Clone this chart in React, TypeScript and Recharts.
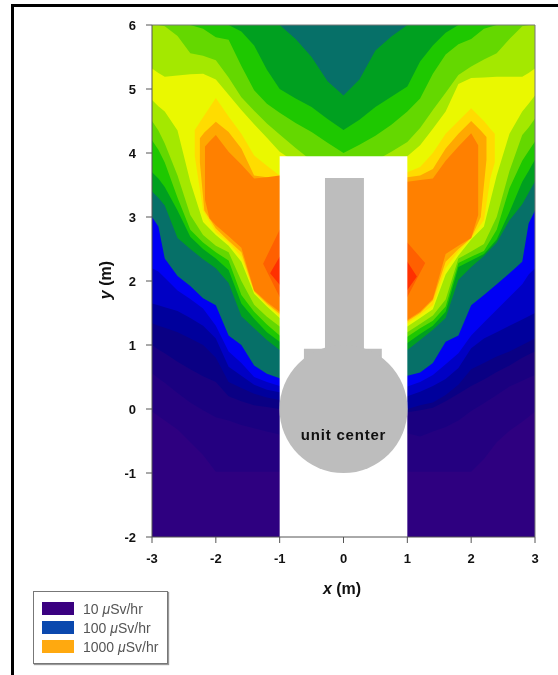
import React from "react"
import {
  Area,
  ComposedChart,
  ReferenceArea,
  ReferenceDot,
  ReferenceLine,
  XAxis,
  YAxis,
} from "recharts"

// x samples shared by the wide contour levels
const gridX = [-3, -2.9, -2.8, -2.6, -2.4, -2.2, -2, -1.8, -1.6, -1.4, -1.2, -1, -0.75, -0.5, -0.25, 0, 0.25, 0.5, 0.75, 1, 1.2, 1.4, 1.6, 1.8, 2, 2.2, 2.4, 2.6, 2.8, 2.9, 3]
const plotTop = [6, 6, 6, 6, 6, 6, 6, 6, 6, 6, 6, 6, 6, 6, 6, 6, 6, 6, 6, 6, 6, 6, 6, 6, 6, 6, 6, 6, 6, 6, 6]

// lower and upper contour of each level
const low1 = [-0.04, -0.11, -0.18, -0.32, -0.52, -0.72, -0.98, -0.98, -0.98, -0.98, -0.98, -0.98, -0.98, -0.98, -0.98, -0.98, -0.98, -0.98, -0.98, -0.98, -0.98, -0.98, -0.98, -0.98, -0.98, -0.78, -0.52, -0.34, -0.2, -0.12, -0.04]
const low2 = [0.56, 0.48, 0.41, 0.25, 0.1, -0.02, -0.13, -0.18, -0.25, -0.3, -0.35, -0.4, -0.4, -0.4, -0.4, -0.4, -0.4, -0.4, -0.4, -0.38, -0.43, -0.35, -0.28, -0.18, -0.03, 0.09, 0.22, 0.35, 0.44, 0.49, 0.53]
const low3 = [1, 0.93, 0.87, 0.74, 0.62, 0.51, 0.42, 0.2, 0.12, 0.06, 0.03, 0, 0, 0, 0, 0, 0, 0, 0, -0.05, -0.02, 0.02, 0.12, 0.24, 0.36, 0.46, 0.58, 0.68, 0.8, 0.85, 0.9]
const low4 = [1.34, 1.3, 1.27, 1.2, 1.1, 1, 0.8, 0.42, 0.33, 0.24, 0.18, 0.14, 0.1, 0.1, 0.1, 0.1, 0.1, 0.1, 0.1, 0, 0.06, 0.1, 0.22, 0.38, 0.62, 0.72, 0.82, 0.9, 1, 1.05, 1.1]
const low5 = [1.65, 1.62, 1.59, 1.53, 1.42, 1.3, 1.1, 0.66, 0.52, 0.38, 0.3, 0.26, 0.25, 0.25, 0.25, 0.25, 0.25, 0.25, 0.25, 0.2, 0.27, 0.36, 0.47, 0.64, 0.95, 1.1, 1.2, 1.3, 1.4, 1.45, 1.5]
const lowBright = [2.2, 2.15, 2.05, 1.85, 1.72, 1.57, 1.3, 0.9, 0.72, 0.5, 0.42, 0.36, 0.35, 0.35, 0.35, 0.35, 0.35, 0.35, 0.35, 0.35, 0.42, 0.53, 0.7, 0.87, 1.15, 1.35, 1.55, 1.75, 1.95, 2.1, 2.2]
const low6 = [3, 2.85, 2.35, 2.08, 1.92, 1.73, 1.62, 1.15, 1, 0.68, 0.55, 0.48, 0.45, 0.42, 0.4, 0.4, 0.4, 0.42, 0.45, 0.52, 0.57, 0.72, 1.05, 1.15, 1.62, 1.78, 1.95, 2.12, 2.3, 2.9, 3.1]
const low7 = [3.4, 3.3, 3.18, 2.67, 2.5, 2.34, 2.2, 1.97, 1.45, 1.26, 1.08, 0.92, 0.9, 0.9, 0.9, 0.9, 0.9, 0.9, 0.9, 0.92, 1.08, 1.24, 1.42, 2.02, 2.22, 2.39, 2.6, 2.95, 3.2, 3.38, 3.56]
const high7 = [6, 6, 6, 6, 6, 6, 6, 6, 6, 6, 6, 6, 5.78, 5.5, 5.12, 4.9, 5.15, 5.6, 5.82, 6, 6, 6, 6, 6, 6, 6, 6, 6, 6, 6, 6]
const low8 = [3.7, 3.6, 3.47, 3.1, 2.69, 2.5, 2.35, 2.17, 1.65, 1.41, 1.2, 1.05, 1, 1, 1, 1, 1, 1, 1, 1.03, 1.17, 1.3, 1.52, 2.22, 2.32, 2.42, 2.65, 3.08, 3.55, 3.72, 3.9]
const high8 = [6, 6, 6, 6, 6, 6, 6, 6, 5.9, 5.68, 5.3, 5, 4.85, 4.72, 4.53, 4.36, 4.52, 4.72, 4.88, 5.04, 5.43, 5.68, 5.88, 6, 6, 6, 6, 6, 6, 6, 6]
const low9 = [4.2, 4.05, 3.85, 3.3, 2.8, 2.6, 2.45, 2.32, 1.78, 1.52, 1.32, 1.15, 1.1, 1.1, 1.1, 1.1, 1.1, 1.1, 1.1, 1.13, 1.26, 1.38, 1.6, 2.28, 2.38, 2.47, 2.8, 3.45, 3.88, 4.03, 4.18]
const high9 = [6, 6, 6, 6, 6, 5.94, 5.81, 5.77, 5.36, 4.98, 4.77, 4.63, 4.47, 4.33, 4.16, 4, 4.13, 4.27, 4.44, 4.65, 4.85, 5.24, 5.54, 5.7, 5.78, 5.94, 6, 6, 6, 6, 6]
const low10 = [4.5, 4.35, 4.15, 3.65, 3.03, 2.72, 2.55, 2.45, 2, 1.63, 1.44, 1.29, 1.2, 1.2, 1.2, 1.2, 1.2, 1.2, 1.2, 1.2, 1.33, 1.46, 1.71, 2.35, 2.46, 2.58, 3, 3.72, 4.28, 4.4, 4.54]
const high10 = [6, 6, 5.98, 5.83, 5.56, 5.52, 5.45, 5.18, 4.87, 4.66, 4.46, 4.29, 4.08, 3.88, 3.75, 3.7, 3.75, 3.88, 4.02, 4.17, 4.39, 4.67, 4.94, 5.22, 5.35, 5.46, 5.56, 5.78, 5.98, 6, 6]
const low11 = [4.83, 4.73, 4.65, 4.35, 3.55, 2.92, 2.72, 2.55, 2.3, 1.8, 1.6, 1.42, 1.3, 1.3, 1.3, 1.3, 1.3, 1.3, 1.3, 1.29, 1.42, 1.56, 2.1, 2.4, 2.65, 2.85, 3.65, 4.3, 4.65, 4.77, 4.9]
const high11 = [5.32, 5.25, 5.19, 5.21, 5.23, 5.24, 5.15, 4.91, 4.67, 4.45, 4.24, 4.02, 3.85, 3.7, 3.6, 3.55, 3.6, 3.7, 3.82, 3.95, 4.12, 4.38, 4.65, 5.08, 5.17, 5.18, 5.19, 5.19, 5.19, 5.25, 5.32]

// the peak levels only reach part of the plot, so they keep their own x samples
const x12 = [-2.33, -2.2, -2, -1.8, -1.6, -1.4, -1.2, -1, 0, 1, 1.2, 1.4, 1.6, 1.8, 2, 2.2, 2.3, 2.37]
const low12 = [3.95, 3.1, 2.76, 2.6, 2.38, 1.83, 1.63, 1.46, 1.3, 1.34, 1.47, 1.62, 2.2, 2.46, 2.67, 2.95, 3.6, 3.85]
const high12 = [4.36, 4.56, 4.86, 4.57, 4.3, 3.96, 3.8, 3.65, 3.6, 3.7, 3.78, 4, 4.3, 4.5, 4.7, 4.5, 4.38, 4.3]
const x13 = [-2.25, -2.18, -2, -1.8, -1.6, -1.4, -1.2, -1, 0, 1, 1.2, 1.4, 1.6, 1.8, 2, 2.15, 2.24]
const low13 = [3.85, 3.1, 2.82, 2.63, 2.45, 1.84, 1.65, 1.49, 1.32, 1.37, 1.5, 1.7, 2.3, 2.5, 2.67, 3, 3.9]
const high13 = [4.23, 4.32, 4.49, 4.33, 4.07, 3.65, 3.62, 3.6, 3.58, 3.62, 3.65, 3.75, 4.07, 4.3, 4.5, 4.35, 4.25]
const x14 = [-2.17, -2.1, -2, -1.8, -1.6, -1.4, -1.2, -1, 0, 1, 1.2, 1.4, 1.6, 1.8, 2, 2.11]
const low14 = [3.27, 2.98, 2.87, 2.7, 2.52, 1.85, 1.67, 1.52, 1.4, 1.39, 1.52, 1.72, 2.42, 2.55, 2.67, 3.03]
const high14 = [4.1, 4.18, 4.28, 4.02, 3.82, 3.6, 3.62, 3.65, 3.6, 3.55, 3.58, 3.6, 3.88, 4.1, 4.31, 4.12]
const x15 = [-1.26, -1, 0, 1, 1.28]
const low15 = [2.27, 1.75, 1.8, 1.75, 2.28]
const high15 = [2.27, 2.8, 2.7, 2.6, 2.28]
const x16 = [-1.15, -1, 0, 1, 1.15]
const low16 = [2.12, 1.94, 2, 1.86, 2.07]
const high16 = [2.12, 2.38, 2.3, 2.3, 2.07]

const xTicks = [-3, -2, -1, 0, 1, 2, 3]
const yTicks = [-2, -1, 0, 1, 2, 3, 4, 5, 6]
const legendValues = ["10", "100", "1000"]
const legendColors = ["#3a0080", "#0a48ae", "#ffa90f"]

const band = (xs: number[], lo: number[], hi: number[]) =>
  xs.map((x, i) => ({ x, band: [lo[i], hi[i]] }))

const baseFloor = gridX.map(() => -2)

const levels = [
  { id: "base", color: "#2e0080", data: band(gridX, baseFloor, plotTop) },
  { id: "l1", color: "#240080", data: band(gridX, low1, plotTop) },
  { id: "l2", color: "#1a0080", data: band(gridX, low2, plotTop) },
  { id: "l3", color: "#0a0084", data: band(gridX, low3, plotTop) },
  { id: "l4", color: "#00009c", data: band(gridX, low4, plotTop) },
  { id: "l5", color: "#0000c4", data: band(gridX, low5, plotTop) },
  { id: "bright", color: "#0000f4", data: band(gridX, lowBright, plotTop) },
  { id: "l6", color: "#067068", data: band(gridX, low6, plotTop) },
  { id: "l7", color: "#00a020", data: band(gridX, low7, high7) },
  { id: "l8", color: "#1ec800", data: band(gridX, low8, high8) },
  { id: "l9", color: "#64d800", data: band(gridX, low9, high9) },
  { id: "l10", color: "#a4e800", data: band(gridX, low10, high10) },
  { id: "l11", color: "#eaf800", data: band(gridX, low11, high11) },
  { id: "l12", color: "#ffdc00", data: band(x12, low12, high12) },
  { id: "l13", color: "#ffa800", data: band(x13, low13, high13) },
  { id: "l14", color: "#ff8000", data: band(x14, low14, high14) },
  { id: "l15", color: "#ff6000", data: band(x15, low15, high15) },
  { id: "l16", color: "#ff3000", data: band(x16, low16, high16) },
]

const font = "'Liberation Sans', Arial, sans-serif"
const tickStyle = { fontSize: 13, fontWeight: 700, fill: "#111", fontFamily: font }

const AxisTitle = ({ x, y, rotate, name }: any) => (
  <text
    x={x}
    y={y}
    textAnchor="middle"
    dominantBaseline="middle"
    transform={rotate ? `rotate(-90 ${x} ${y})` : undefined}
    style={{ fontSize: 16, fontWeight: 700, fill: "#111", fontFamily: font }}
  >
    <tspan fontStyle="italic">{name}</tspan> (m)
  </text>
)

export default function App() {
  return (
    <div style={{ position: "absolute", left: 0, top: 0, width: 558, height: 675, background: "#fff", overflow: "hidden", filter: "blur(0.6px)" }}>
      <div style={{ position: "absolute", left: 11, top: 4, right: -4, bottom: -4, borderTop: "3px solid #000", borderLeft: "3px solid #000" }} />
      <div style={{ position: "absolute", left: 0, top: 0 }}>
        <ComposedChart width={558} height={675} margin={{ top: 25, right: 23, bottom: 108, left: 112 }}>
          <XAxis
            dataKey="x"
            type="number"
            domain={[-3, 3]}
            ticks={xTicks}
            stroke="#555"
            tick={tickStyle}
            tickMargin={11}
            height={30}
            label={{ content: () => <AxisTitle x={342} y={590} name="x" /> }}
          />
          <YAxis
            type="number"
            domain={[-2, 6]}
            ticks={yTicks}
            stroke="#555"
            tick={tickStyle}
            tickMargin={10}
            width={40}
            label={{ content: () => <AxisTitle x={107} y={280} rotate name="y" /> }}
          />
          {levels.map((level) => (
            <Area
              key={level.id}
              data={level.data}
              dataKey="band"
              type="linear"
              stroke="none"
              fill={level.color}
              fillOpacity={1}
              dot={false}
              activeDot={false}
              isAnimationActive={false}
            />
          ))}
          <ReferenceArea x1={-1} x2={1} y1={-2} y2={3.95} fill="#fff" fillOpacity={1} stroke="none" />
          <ReferenceArea x1={-0.29} x2={0.32} y1={0.9} y2={3.61} fill="#bdbdbd" fillOpacity={1} stroke="none" />
          <ReferenceArea x1={-0.62} x2={0.6} y1={0.5} y2={0.94} fill="#bdbdbd" fillOpacity={1} stroke="none" />
          <ReferenceDot x={0} y={0} r={64} fill="#bdbdbd" stroke="none" />
          <ReferenceLine segment={[{ x: -0.18, y: 0 }, { x: 0.18, y: 0 }]} stroke="#444" />
          <ReferenceLine segment={[{ x: 0, y: -0.18 }, { x: 0, y: 0.18 }]} stroke="#444" />
          <ReferenceDot
            x={0}
            y={-0.4}
            r={0}
            fill="none"
            stroke="none"
            label={{
              value: "unit center",
              position: "center",
              style: { fontSize: 15, fontWeight: 700, fill: "#111", fontFamily: font, letterSpacing: 0.8 },
            }}
          />
          <ReferenceLine y={6} stroke="#777" />
          <ReferenceLine x={3} stroke="#777" />
        </ComposedChart>
      </div>
      <div
        style={{
          position: "absolute",
          left: 33,
          top: 591,
          width: 133,
          height: 71,
          border: "1px solid #777",
          boxShadow: "1px 1px 1px #999",
          background: "#fff",
        }}
      >
        {legendValues.map((value, i) => (
          <div
            key={value}
            style={{
              position: "absolute",
              left: 8,
              top: 10 + i * 19,
              height: 13,
              display: "flex",
              alignItems: "center",
              fontFamily: font,
              fontSize: 14,
              color: "#555",
              whiteSpace: "nowrap",
            }}
          >
            <span style={{ width: 32, height: 13, background: legendColors[i], marginRight: 9 }} />
            {value}&nbsp;<i>μ</i>Sv/hr
          </div>
        ))}
      </div>
    </div>
  )
}
